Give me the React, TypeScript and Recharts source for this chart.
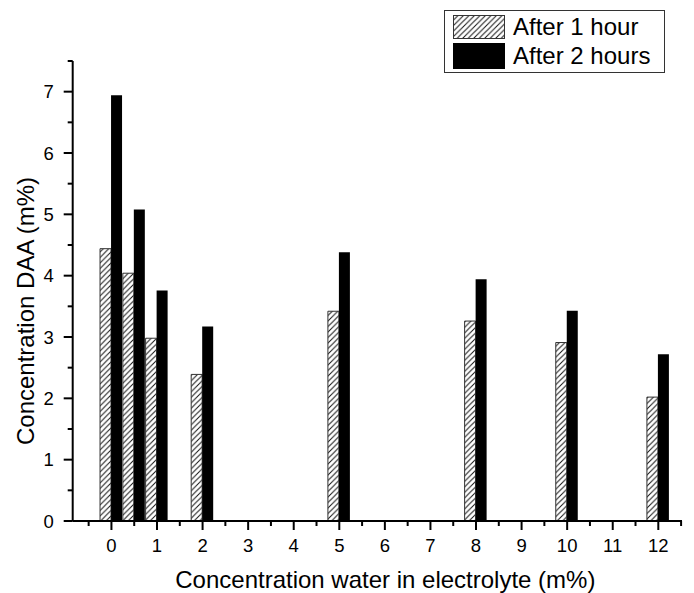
import { Bar, BarChart, Label, Legend, XAxis, YAxis } from "recharts";

const FONT = '"Liberation Sans", Arial, sans-serif';

// water content in electrolyte (m%)
const waterContent = [0, 0.5, 1, 2, 5, 8, 10, 12];
const after1Hour = [4.44, 4.04, 2.98, 2.39, 3.42, 3.26, 2.91, 2.02];
const after2Hours = [6.94, 5.08, 3.76, 3.17, 4.38, 3.94, 3.43, 2.72];

const xTicks = [
  -0.5, 0, 0.5, 1, 1.5, 2, 2.5, 3, 3.5, 4, 4.5, 5, 5.5, 6, 6.5,
  7, 7.5, 8, 8.5, 9, 9.5, 10, 10.5, 11, 11.5, 12, 12.5,
];
const yTicks = [0, 0.5, 1, 1.5, 2, 2.5, 3, 3.5, 4, 4.5, 5, 5.5, 6, 6.5, 7, 7.5];

const data = waterContent.map((w, i) => ({
  water: w,
  h1: after1Hour[i],
  h2: after2Hours[i],
}));

function XTick({ x, y, payload }: any) {
  const major = Number.isInteger(payload.value);
  return (
    <g>
      <line x1={x} x2={x} y1={y} y2={y + (major ? 9 : 5)} stroke="#000" strokeWidth={2} />
      {major && (
        <text x={x} y={y + 31} textAnchor="middle" fontSize={18.5} fontFamily={FONT} fill="#000">
          {payload.value}
        </text>
      )}
    </g>
  );
}

function YTick({ x, y, payload }: any) {
  const major = Number.isInteger(payload.value);
  return (
    <g>
      <line x1={x - (major ? 9 : 5)} x2={x} y1={y} y2={y} stroke="#000" strokeWidth={2} />
      {major && (
        <text x={x - 19} y={y + 6.5} textAnchor="end" fontSize={18.5} fontFamily={FONT} fill="#000">
          {payload.value}
        </text>
      )}
    </g>
  );
}

function XTitle({ viewBox }: any) {
  return (
    <text
      x={viewBox.x + viewBox.width / 2 + 8}
      y={viewBox.y + viewBox.height + 17}
      textAnchor="middle"
      fontSize={24}
      fontFamily={FONT}
      fill="#000"
    >
      Concentration water in electrolyte (m%)
    </text>
  );
}

function YTitle({ viewBox }: any) {
  const cx = viewBox.x + 21;
  const cy = viewBox.y + viewBox.height / 2 + 20;
  return (
    <text
      x={cx}
      y={cy}
      transform={`rotate(-90 ${cx} ${cy})`}
      textAnchor="middle"
      fontSize={24}
      fontFamily={FONT}
      fill="#000"
    >
      Concentration DAA (m%)
    </text>
  );
}

function HatchSwatch() {
  return (
    <svg width={52} height={24} style={{ display: "block" }}>
      <defs>
        <pattern id="hatchLegend" patternUnits="userSpaceOnUse" width={5.5} height={5.5}>
          <path d="M0,5.5 L5.5,0 M-1,1 L1,-1 M4.5,6.5 L6.5,4.5" stroke="#111" strokeWidth={1} />
        </pattern>
      </defs>
      <rect x={0.5} y={0.5} width={51} height={23} fill="url(#hatchLegend)" stroke="#333" />
    </svg>
  );
}

function LegendBox() {
  const row = { display: "flex", alignItems: "center", height: 29 };
  const txt = { marginLeft: 8, fontSize: 24, fontFamily: FONT, color: "#000", lineHeight: "24px" };
  return (
    <div
      style={{
        border: "1px solid #333",
        background: "#fff",
        width: 211,
        height: 60,
        padding: "1px 0 0 8px",
        boxSizing: "content-box",
      }}
    >
      <div style={row}>
        <HatchSwatch />
        <span style={txt}>After 1 hour</span>
      </div>
      <div style={row}>
        <div style={{ width: 52, height: 26, background: "#000" }} />
        <span style={txt}>After 2 hours</span>
      </div>
    </div>
  );
}

export default function App() {
  return (
    <div style={{ position: "absolute", left: 0, top: 0, width: 694, height: 593, background: "#fff" }}>
      <BarChart
        width={694}
        height={593}
        data={data}
        barSize={11}
        barGap={0}
        margin={{ top: 61, right: 12, bottom: 22, left: 12.7 }}
      >
        <defs>
          <pattern id="hatch" patternUnits="userSpaceOnUse" width={5.5} height={5.5}>
            <path d="M0,5.5 L5.5,0 M-1,1 L1,-1 M4.5,6.5 L6.5,4.5" stroke="#111" strokeWidth={1} />
          </pattern>
        </defs>
        <XAxis
          dataKey="water"
          type="number"
          domain={[-0.85, 12.52]}
          allowDataOverflow
          ticks={xTicks}
          interval={0}
          height={50}
          tickSize={0}
          tickMargin={0}
          tickLine={false}
          tick={<XTick />}
          axisLine={{ stroke: "#000", strokeWidth: 2 }}
        >
          <Label content={<XTitle />} />
        </XAxis>
        <YAxis
          type="number"
          domain={[0, 7.5]}
          allowDataOverflow
          ticks={yTicks}
          interval={0}
          width={60}
          tickSize={0}
          tickMargin={0}
          tickLine={false}
          tick={<YTick />}
          axisLine={{ stroke: "#000", strokeWidth: 2 }}
        >
          <Label content={<YTitle />} />
        </YAxis>
        <Legend
          layout="vertical"
          align="center"
          verticalAlign="middle"
          content={<LegendBox />}
          wrapperStyle={{ position: "absolute", left: 444, top: 10, width: "auto", height: "auto" }}
        />
        <Bar dataKey="h1" name="After 1 hour" fill="url(#hatch)" stroke="#333" strokeWidth={1} isAnimationActive={false} />
        <Bar dataKey="h2" name="After 2 hours" fill="#000" isAnimationActive={false} />
      </BarChart>
    </div>
  );
}
